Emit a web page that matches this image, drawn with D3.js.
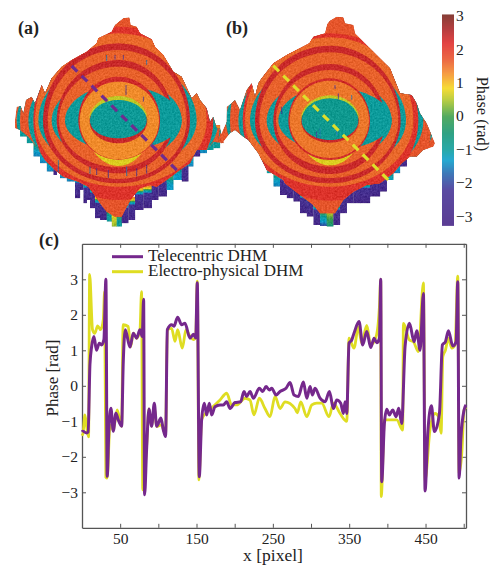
<!DOCTYPE html>
<html><head><meta charset="utf-8">
<script src="https://cdn.jsdelivr.net/npm/d3@7"></script>
<style>
html,body{margin:0;padding:0;background:#fff}
svg{display:block}
text{font-family:"Liberation Serif",serif;fill:#222}
</style></head><body>
<div id="chart"></div>
<script>
// ---- line chart (c) ----
const telecentricX=[0,1,6,8,10.4,12.6,15.6,19,22.6,25.6,28.7,31.3,33,35.2,37.9,41,44.4,47.5,51.9,54,56.7,62.8,67.2,71.6,75.9,78.9,80.7,82,84.6,87.7,91.2,94.7,97.8,103.4,106.5,109.5,111.8,117.4,120.4,125.3,130.5,134.9,141.4,146,149,151,153.6,156.7,160.2,163.3,166.8,169.8,174.2,180.8,185.1,189.5,193.9,200.4,207.8,212.2,215.7,220.1,224.5,232.3,236.7,241.1,245.4,248.5,254.2,259.4,267.3,272.5,277.8,283.4,290,294.4,298.7,301.8,305.3,311.8,318.4,324.1,329.3,333.7,338.9,342.4,344.6,346.8,349.8,353.3,356.3,362.9,367.7,373,378.2,382.6,386.1,389.6,391.3,392.6,396.1,399.2,402.7,407,411.4,414.9,418.8,423.2,428.9,435,438.5,442.9,447.2,449.4,452.9,457.7,461.6,468.2,472.1,476,480,485.7,490,492.2,494,496.2,500.5,503];
const telecentricY=[-1.3,-1.28,-1.33,-1.3,.6,1.1,1.39,1,1.2,1.15,1.3,3,-2.55,-1.24,-.63,-1.28,-.77,-.96,-1.14,.64,1.58,1.09,1.48,1.34,1.58,1.39,2.44,-3.07,-1.8,-.65,-1.14,-.49,-1.14,-.91,-1.24,-1.43,1.58,1.72,1.68,1.93,1.72,1.76,1.34,1.45,1.35,2.9,-2.56,-.96,-.49,-.82,-.49,-.82,-.59,-.54,-.54,-.45,-.64,-.47,-.45,-.16,-.3,-.16,-.35,-.07,-.16,-.02,-.12,-.07,-.26,-.16,-.07,.09,-.26,-.3,.11,-.35,-.02,-.26,-.07,-.35,-.45,-.16,-.64,-.4,-.49,-.78,-.45,-.78,1.2,1.29,1.48,1.81,1.15,1.53,1.08,1.34,1.21,1.34,3,-2.7,-1.06,-.66,-.82,-.68,-.87,-.63,-1.06,1.11,1.76,1.24,1.55,1,2.6,-2.96,-1.34,-.56,-1.29,-.78,1.15,1.24,1.55,1.12,1.24,2.93,-2.6,-1.52,-.68,-.54];
const electroX=[0,1,3.8,6,8.6,10,13.8,16.9,20.4,24.4,27.9,29.6,31.3,33,36.7,41,46,51.9,53.9,60.5,63.6,67.2,71.6,75.9,78,79.6,84.6,87.7,91.2,94.7,97.8,103.4,109.5,111.8,117.4,121.8,125.3,131.4,136.2,141.4,146,149,151,153.2,156.7,163,170,180.8,189.5,196,202.6,213.5,220,225.3,232.3,239.7,246.3,252.9,259.4,266,279,282.1,286.5,294.4,301,307.5,314,323.6,329.3,338,346.8,349.8,356.3,362,366.4,373,378.2,385.2,389.6,391.3,392,396.1,405.7,412.3,420.1,421,428.9,434.1,440.7,447.2,449.4,456,462.5,467,470.4,472.6,476,480,484.4,488.7,492.2,494,497.5,500.5,503];
const electroY=[-1.35,-1.38,-.82,-1.14,-1.44,3.14,1.58,1.48,1.69,1.58,1.86,2.65,-2.58,-2.6,-1.1,-1.25,-.68,-1.14,1.72,1.67,1.1,1.48,1.34,1.55,2.65,-2.93,-1.7,-.65,-1.14,-.6,-1.15,-1.1,-1.35,1.58,1.62,1.25,1.58,1.06,1.58,1.39,1.3,1.4,2.95,-2.65,-.95,-.75,-.62,-.4,-.21,-.54,-.54,-.35,-.4,-.82,-.35,-.64,-.87,-.3,-.64,-.45,-.64,-.76,-.45,-.87,-.54,-.49,-.49,-.87,-.49,-.78,-1,1.34,1.06,1.66,1.2,1.7,1.15,1.38,2.23,3,-3.12,-.96,-.96,-.96,-1.25,1.76,1.29,1.24,.96,2.9,-2.66,-1.2,-.78,-.87,-1.34,.82,1,1.34,1.06,1.15,3.09,-2.47,-1.9,-.68,-.6];
const xTickValues=[50,100,150,200,250,300,350,400,450,500];
const xTickLabels=[50,150,250,350,450];
const yTickValues=[-3,-2,-1,0,1,2,3];
const seriesNames=["Telecentric DHM","Electro-physical DHM"];

// ---- colour bar ----
const phaseStops=[3.05,2.6,2.2,1.7,1.3,.85,.5,0,-.5,-1,-1.3,-1.7,-2.2,-3.25];
const phaseColours=["#7b2a22","#b02a2c","#e03030","#ea5a30","#f59030","#f5d820","#b0c830","#3fa050","#1a9878","#12a0a0","#10a0cc","#2a6ab0","#4a3898","#4a2888"];
const barTicks=[3,2,1,0,-1,-2,-3];

// ---- surface (a): rings, outermost first, in surface units ----
const phaseA=[-1,1.7,-1,2.1,1.55,-1,2.35,1.6,-1,2.35,1.6,.75,-1,2.3,1.3,.6,2.35,-.95];
const leftA =[305,295,270,255,250,240,226,212,200,185,178,100,160,120,116,88,87,85];
const rightA=[312,305,300,285,265,235,215,205,190,165,155,100,190,125,122,88,87,85];
const upA   =[200,310,195,282,262,185,232,212,128,182,162,120,105,132,117,74,50,62];
const downA =[200,335,190,238,198,150,188,175,120,158,140,136,88,117,116,50,68,53];
const centreA=[355,362];
const outlineA=[[370,55],[388,52],[392,75],[410,80],[420,100],[455,118],[465,140],[490,165],[520,215],[545,230],[575,295],[590,280],[600,300],[620,325],[630,365],[640,350],[650,385],[660,385],[672,430],[640,425],[620,450],[590,450],[570,490],[540,510],[500,540],[470,560],[450,555],[420,565],[395,595],[375,630],[365,650],[345,650],[320,635],[300,610],[280,580],[265,560],[235,545],[190,530],[165,510],[135,480],[110,440],[85,410],[60,390],[45,385],[45,360],[50,320],[62,318],[70,340],[78,300],[95,290],[105,310],[125,255],[135,280],[155,235],[185,200],[215,180],[260,155],[290,130],[295,115],[335,95],[345,75]];
const wallXA=[60,80,100,120,140,160,170,180,200,225,240,250,260,270,285,300,320,335,350,365,385,405,430,455,475,500,520,545,565,580,600,620,640];
const wallBottomA=[410,430,470,490,515,525,500,535,545,595,570,610,600,625,655,660,665,680,680,670,660,630,625,600,590,570,540,545,500,470,460,450,445];
const wallEndA=[-1,-1,-1.5,-1.5,-1.5,-3,-1.5,-1.5,-1.5,-3,-3,-3,-3,-3,-3,-3,-1,.4,-1,-3,-3,-3,-3,-3,-3,-1.3,-1.3,-3,-1.5,-3,-1.5,-1,-1];
const spikeXA=[320,345,370,440,378,430,270,290,325,380,410,440,175,150];
const spikeYA=[165,165,165,180,255,290,500,505,510,500,505,495,480,500];
const spikeLenA=[18,14,14,14,30,15,22,20,24,28,24,26,36,26];
const dashA=[[215,198],[540,520]];

// ---- surface (b) ----
const phaseB=[-1,1.7,-1,2.1,1.55,-1,2.35,1.6,-1,2.35,1.6,.75,-1,2.3,1.45,.6,2.35,-.85];
const leftB =[312,300,275,262,255,240,225,212,190,170,162,100,155,125,121,88,87,85];
const rightB=[315,305,280,265,250,228,212,205,185,165,155,100,185,120,117,88,87,85];
const upB   =[200,312,195,262,250,180,225,205,125,170,152,118,100,127,120,76,50,67];
const downB =[200,330,190,240,198,150,188,172,118,160,138,134,88,118,112,50,66,58];
const centreB=[330,362];
const outlineB=[[322,72],[330,62],[350,50],[370,52],[375,70],[400,75],[405,100],[430,125],[470,165],[510,205],[540,280],[575,285],[590,310],[600,340],[620,370],[645,430],[640,440],[610,450],[590,470],[570,470],[545,490],[520,520],[480,550],[440,555],[400,575],[370,600],[345,640],[300,640],[280,615],[240,585],[195,550],[190,540],[140,510],[115,460],[85,420],[70,410],[45,390],[30,400],[5,432],[0,410],[20,365],[20,320],[35,310],[45,300],[60,330],[80,270],[95,250],[105,290],[115,250],[125,235],[160,190],[200,165],[268,130],[280,110],[315,100]];
const wallXB=[100,120,140,160,180,200,220,240,260,280,300,320,340,360,380,400,420,450,480,500,520,540,560];
const wallBottomB=[440,470,520,560,585,595,605,640,650,675,678,680,675,640,610,610,610,590,575,540,520,500,470];
const wallEndB=[-1,-1,-1,-1.5,-3,-3,-3,-3,-3,-3,-2,-.6,-3,-3,-3,-3,-3,-3,-3,-1.2,-1.5,-3,-2];
const spikeXB=[300,345,355,395,290,185,350];
const spikeYB=[385,255,280,285,395,320,390];
const spikeLenB=[30,12,18,14,20,22,16];
const dashB=[[160,197],[505,540]];

const W=493,H=565;
const svg=d3.select("#chart").append("svg").attr("width",W).attr("height",H).attr("viewBox",[0,0,W,H]);
const defs=svg.append("defs");
const phaseColour=d3.scaleLinear().domain(phaseStops).range(phaseColours).clamp(true);

// speckled, slightly soft look of the surface renderings
const f=defs.append("filter").attr("id","soft").attr("x","-5%").attr("y","-5%").attr("width","110%").attr("height","110%").attr("color-interpolation-filters","sRGB");
f.append("feTurbulence").attr("type","fractalNoise").attr("baseFrequency",.55).attr("numOctaves",2).attr("seed",4).attr("result","n");
f.append("feColorMatrix").attr("in","n").attr("type","matrix").attr("values","1 0 0 0 0 1 0 0 0 0 1 0 0 0 0 0 0 0 0 1").attr("result","g");
f.append("feComposite").attr("in","SourceGraphic").attr("in2","g").attr("operator","arithmetic").attr("k1",0).attr("k2",1).attr("k3",.2).attr("k4",-.12).attr("result","c");
f.append("feComposite").attr("in","c").attr("in2","SourceAlpha").attr("operator","in").attr("result","m");
f.append("feGaussianBlur").attr("in","m").attr("stdDeviation",.7);

const endGradient=end=>{
  const id="wall"+String(end).replace("-","m").replace(".","_");
  if(!defs.select("#"+id).empty()) return id;
  const g=defs.append("linearGradient").attr("id",id).attr("x1",0).attr("x2",0).attr("y1",0).attr("y2",1);
  const ph=[1.6,.8,0,-1,-1.3,-2.2,end].filter(p=>p>=end);
  const off=end<-2.5?[0,.15,.2,.25,.3,.36,1]:ph.map((_,i)=>i/(ph.length-1));
  ph.forEach((p,i)=>g.append("stop").attr("offset",off[i]).attr("stop-color",phaseColour(p)));
  return id;
};

function surface(id,x0,P){
  const sx=d3.scaleLinear().domain([0,720]).range([x0,x0+240]);
  const sy=d3.scaleLinear().domain([0,690]).range([0,230]);
  const g=svg.append("g").attr("filter","url(#soft)");
  P.wallX.forEach((wx,i)=>{
    const next=i<P.wallX.length-1?P.wallX[i+1]:wx+20;
    g.append("rect").attr("x",sx(wx)).attr("width",sx(next)-sx(wx)+.3)
      .attr("y",sy(P.wallBottom[i]-70)).attr("height",sy(70))
      .attr("fill","url(#"+endGradient(P.wallEnd[i])+")");
  });
  const line=d3.line().x(d=>sx(d[0])).y(d=>sy(d[1]));
  defs.append("clipPath").attr("id","clip"+id).append("path").attr("d",line(P.outline)+"Z");
  const top=g.append("g").attr("clip-path","url(#clip"+id+")");
  top.append("rect").attr("x",sx(0)).attr("y",0).attr("width",240).attr("height",230).attr("fill",phaseColour(1.7));
  const [cx,cy]=P.centre;
  const angles=d3.range(0,360,5).map(d=>d*Math.PI/180);
  P.phase.forEach((ph,i)=>{
    const pts=angles.map(a=>{
      const c=Math.cos(a),s=Math.sin(a);
      return [cx+(c<0?P.left[i]:P.right[i])*c, cy+(s<0?P.up[i]:P.down[i])*s];
    });
    top.append("path").attr("d",line(pts)+"Z").attr("fill",phaseColour(ph));
  });
  P.spikeX.forEach((px,i)=>{
    top.append("line").attr("x1",sx(px)).attr("x2",sx(px))
      .attr("y1",sy(P.spikeY[i])).attr("y2",sy(P.spikeY[i]+P.spikeLen[i]))
      .attr("stroke",phaseColour(i%3==0?-1.6:-2.4)).attr("stroke-width",1).attr("opacity",.8);
  });
  svg.append("path").attr("d",line(P.dash)).attr("fill","none").attr("stroke",P.dashColour)
    .attr("stroke-width",3.2).attr("stroke-dasharray","8 6");
}
surface("a",0,{phase:phaseA,left:leftA,right:rightA,up:upA,down:downA,centre:centreA,outline:outlineA,wallX:wallXA,wallBottom:wallBottomA,wallEnd:wallEndA,spikeX:spikeXA,spikeY:spikeYA,spikeLen:spikeLenA,dash:dashA,dashColour:"#6f2c8f"});
surface("b",220,{phase:phaseB,left:leftB,right:rightB,up:upB,down:downB,centre:centreB,outline:outlineB,wallX:wallXB,wallBottom:wallBottomB,wallEnd:wallEndB,spikeX:spikeXB,spikeY:spikeYB,spikeLen:spikeLenB,dash:dashB,dashColour:"#dede2a"});

// panel letters
[["(a)",18,34],["(b)",226,34],["(c)",39,246]].forEach(([t,x,y])=>
  svg.append("text").attr("x",x).attr("y",y).attr("font-size",18).attr("font-weight","bold").attr("fill","#111").text(t));

// colour bar
const barY=d3.scaleLinear().domain([3.05,-3.25]).range([14.5,225]);
const barG=svg.append("g");
d3.range(14.5,225,1).forEach(py=>{
  barG.append("rect").attr("x",442).attr("y",py).attr("width",12).attr("height",1.3)
    .attr("fill",phaseColour(barY.invert(py)));
});
barG.selectAll("text").data(barTicks).join("text")
  .attr("x",456).attr("y",d=>barY(d)+5).attr("font-size",15.5)
  .text(d=>d3.format("d")(d));
svg.append("text").attr("transform","translate(477,114) rotate(90)").attr("text-anchor","middle")
  .attr("font-size",16.5).text("Phase (rad)");

// chart (c)
const x=d3.scaleLinear().domain([0,503]).range([82,466]);
const y=d3.scaleLinear().domain([-4,4]).range([527.8,243.8]);
const axisCol="#555";
const styleAxis=g=>{
  g.select(".domain").attr("stroke",axisCol).attr("stroke-width",1.3);
  g.selectAll(".tick line").attr("stroke",axisCol).attr("stroke-width",1);
  g.selectAll(".tick text").attr("font-size",15.5).attr("fill","#222").attr("font-family",'"Liberation Serif",serif');
};
svg.append("g").attr("transform","translate(0,527.8)")
  .call(d3.axisBottom(x).tickValues(xTickValues).tickSizeInner(-4).tickSizeOuter(0).tickPadding(5)
    .tickFormat(d=>xTickLabels.includes(d)?d:"")).call(styleAxis);
svg.append("g").attr("transform","translate(0,243.8)")
  .call(d3.axisTop(x).tickValues(xTickValues).tickSizeInner(-4).tickSizeOuter(0).tickFormat("")).call(styleAxis);
svg.append("g").attr("transform","translate(82,0)")
  .call(d3.axisLeft(y).tickValues(yTickValues).tickSizeInner(-4).tickSizeOuter(0).tickPadding(4).tickFormat(d3.format("d"))).call(styleAxis);
svg.append("g").attr("transform","translate(466,0)")
  .call(d3.axisRight(y).tickValues(yTickValues).tickSizeInner(-4).tickSizeOuter(0).tickFormat("")).call(styleAxis);
svg.append("text").attr("transform","translate(58,378) rotate(-90)").attr("text-anchor","middle").attr("font-size",17).text("Phase [rad]");
svg.append("text").attr("x",273).attr("y",561).attr("text-anchor","middle").attr("font-size",17.5).text("x [pixel]");

const lineGen=d3.line().x(d=>x(d[0])).y(d=>y(d[1])).curve(d3.curveMonotoneX);
const plot=svg.append("g");
plot.append("path").attr("d",lineGen(d3.zip(electroX,electroY))).attr("fill","none").attr("stroke","#dfdd22").attr("stroke-width",2.8).attr("stroke-linejoin","round");
plot.append("path").attr("d",lineGen(d3.zip(telecentricX,telecentricY))).attr("fill","none").attr("stroke","#75288c").attr("stroke-width",3).attr("stroke-linejoin","round");

// legend
[["#75288c",256.7],["#dfdd22",271.7]].forEach(([c,ly],i)=>{
  svg.append("line").attr("x1",112).attr("x2",143).attr("y1",ly).attr("y2",ly).attr("stroke",c).attr("stroke-width",3);
  svg.append("text").attr("x",148).attr("y",ly+4.5).attr("font-size",17).text(seriesNames[i]);
});
</script>
</body></html>
